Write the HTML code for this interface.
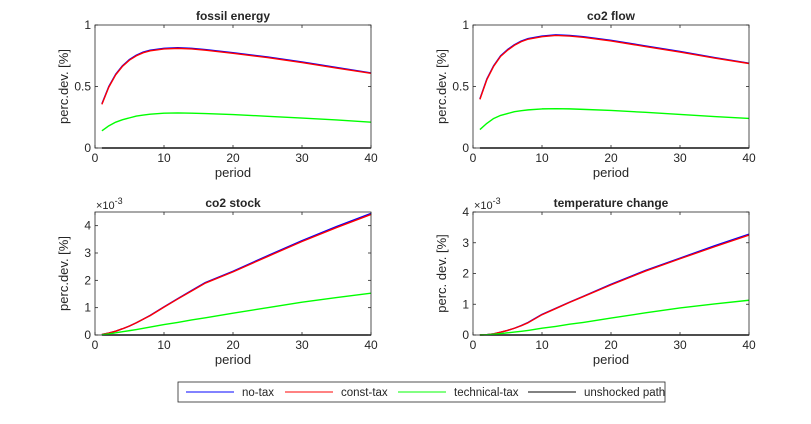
<!DOCTYPE html>
<html><head><meta charset="utf-8"><style>
body{margin:0;background:#fff;width:811px;height:419px;overflow:hidden;font-family:"Liberation Sans",sans-serif}
svg text{font-family:"Liberation Sans",sans-serif;fill:#262626}
</style></head><body>
<svg id="c" width="811" height="419"></svg>
<script>
const periods=[1,2,3,4,5,6,7,8,10,12,14,16,20,25,30,35,40];
const fossilNoTax=[0.36,0.50,0.60,0.67,0.72,0.755,0.78,0.795,0.81,0.815,0.81,0.80,0.775,0.74,0.70,0.655,0.61];
const fossilConst=[0.355,0.495,0.595,0.665,0.715,0.75,0.775,0.79,0.805,0.81,0.805,0.795,0.77,0.735,0.695,0.65,0.607];
const fossilTech=[0.14,0.18,0.21,0.23,0.245,0.26,0.268,0.275,0.283,0.285,0.283,0.28,0.272,0.258,0.243,0.228,0.21];
const flowNoTax=[0.40,0.56,0.67,0.75,0.80,0.84,0.87,0.89,0.91,0.92,0.915,0.905,0.875,0.83,0.785,0.735,0.69];
const flowConst=[0.395,0.555,0.665,0.745,0.795,0.835,0.865,0.885,0.905,0.915,0.91,0.90,0.87,0.825,0.78,0.731,0.687];
const flowTech=[0.15,0.20,0.24,0.265,0.28,0.295,0.303,0.31,0.318,0.32,0.318,0.314,0.305,0.29,0.273,0.256,0.24];
const stockNoTax=[0.02,0.07,0.14,0.23,0.33,0.45,0.58,0.72,1.03,1.33,1.63,1.92,2.33,2.9,3.45,3.97,4.45];
const stockConst=[0.02,0.07,0.14,0.23,0.33,0.45,0.58,0.71,1.02,1.32,1.61,1.9,2.31,2.87,3.42,3.93,4.41];
const stockTech=[0.01,0.04,0.08,0.12,0.16,0.2,0.245,0.29,0.38,0.46,0.55,0.63,0.8,1.0,1.2,1.37,1.53];
const tempNoTax=[0,0.01,0.04,0.09,0.15,0.22,0.31,0.41,0.67,0.87,1.07,1.26,1.65,2.1,2.5,2.9,3.28];
const tempConst=[0,0.01,0.04,0.09,0.15,0.22,0.3,0.4,0.66,0.86,1.06,1.25,1.63,2.08,2.48,2.87,3.25];
const tempTech=[0,0.01,0.025,0.045,0.07,0.095,0.12,0.15,0.22,0.28,0.35,0.41,0.55,0.72,0.88,1.01,1.13];
const unshocked=[0,0,0,0,0,0,0,0,0,0,0,0,0,0,0,0,0];
const xTicks=[0,10,20,30,40];
const NS='http://www.w3.org/2000/svg';
const svg=document.getElementById('c');
function el(t,a,p){const e=document.createElementNS(NS,t);for(const k in a)e.setAttribute(k,a[k]);(p||svg).appendChild(e);return e;}
const panels=[
 {name:'fossil-energy',title:'fossil energy',x0:95,x1:371,y0:25,y1:148,ymax:1,yt:[0,0.5,1],ytl:['0','0.5','1'],yl:'perc.dev. [%]',s:[fossilNoTax,fossilConst,fossilTech],exp:false},
 {name:'co2-flow',title:'co2 flow',x0:473,x1:749,y0:25,y1:148,ymax:1,yt:[0,0.5,1],ytl:['0','0.5','1'],yl:'perc.dev. [%]',s:[flowNoTax,flowConst,flowTech],exp:false},
 {name:'co2-stock',title:'co2 stock',x0:95,x1:371,y0:212,y1:335,ymax:4.5,yt:[0,1,2,3,4],ytl:['0','1','2','3','4'],yl:'perc.dev. [%]',s:[stockNoTax,stockConst,stockTech],exp:true},
 {name:'temperature-change',title:'temperature change',x0:473,x1:749,y0:212,y1:335,ymax:4,yt:[0,1,2,3,4],ytl:['0','1','2','3','4'],yl:'perc. dev. [%]',s:[tempNoTax,tempConst,tempTech],exp:true}];
const colors=['#0000ff','#ff0000','#00ff00'];
const snames=['no-tax','const-tax','technical-tax'];
panels.forEach(P=>{
 const g=el('g',{});
 
 
 const sx=v=>P.x0+(v/40)*(P.x1-P.x0);
 const sy=v=>P.y1-(v/P.ymax)*(P.y1-P.y0);
 el('rect',{x:P.x0,y:P.y0,width:P.x1-P.x0,height:P.y1-P.y0,fill:'#fff'},g);
 const mk=(arr,col,nm)=>{const p=el('polyline',{points:periods.map((t,i)=>sx(t)+','+sy(arr[i])).join(' '),fill:'none',stroke:col,'stroke-width':1.4,'stroke-linejoin':'round'},g);
  };
 mk(unshocked,'#000','unshocked-path-line');
 P.s.forEach((a,i)=>mk(a,colors[i],snames[i]+'-line'));
 el('rect',{x:P.x0,y:P.y0,width:P.x1-P.x0,height:P.y1-P.y0,fill:'none',stroke:'#262626','stroke-width':0.8},g);
 xTicks.forEach(t=>{const x=sx(t);
  el('line',{x1:x,x2:x,y1:P.y1,y2:P.y1-3,stroke:'#262626','stroke-width':0.8},g);
  el('line',{x1:x,x2:x,y1:P.y0,y2:P.y0+3,stroke:'#262626','stroke-width':0.8},g);
  const tx=el('text',{x:x,y:P.y1+14,'font-size':12,'text-anchor':'middle'},g);tx.textContent=t;
  });
 P.yt.forEach((t,i)=>{const y=sy(t);
  el('line',{x1:P.x0,x2:P.x0+3,y1:y,y2:y,stroke:'#262626','stroke-width':0.8},g);
  el('line',{x1:P.x1,x2:P.x1-3,y1:y,y2:y,stroke:'#262626','stroke-width':0.8},g);
  const tx=el('text',{x:P.x0-4,y:y+4,'font-size':12,'text-anchor':'end'},g);tx.textContent=P.ytl[i];
  });
 const ti=el('text',{x:(P.x0+P.x1)/2,y:P.y0-5,'font-size':12,'font-weight':'bold','text-anchor':'middle',fill:'#000'},g);ti.textContent=P.title;
 
 const xl=el('text',{x:(P.x0+P.x1)/2,y:P.y1+29,'font-size':13,'text-anchor':'middle'},g);xl.textContent='period';
 
 const yc=(P.y0+P.y1)/2, lx=P.x0-27;
 const yl=el('text',{x:lx,y:yc,'font-size':13,'text-anchor':'middle',transform:`rotate(-90 ${lx} ${yc})`},g);yl.textContent=P.yl;
 
 if(P.exp){const ex=el('text',{x:P.x0+1,y:P.y0-3,'font-size':11},g);
  ex.innerHTML='×10<tspan dy="-5" font-size="9">-3</tspan>';
  }
});
// legend
const lg=el('g',{});


el('rect',{x:178,y:382,width:487,height:20,fill:'#fff',stroke:'#262626','stroke-width':0.8},lg);
const entries=[['no-tax','#0000ff',186],['const-tax','#ff0000',285],['technical-tax','#00ff00',398],['unshocked path','#000',528]];
entries.forEach(e=>{const eg=el('g',{},lg);
 
 
 el('line',{x1:e[2],x2:e[2]+48,y1:392,y2:392,stroke:e[1],'stroke-width':1.4,'stroke-opacity':0.65},eg);
 const t=el('text',{x:e[2]+56,y:396,'font-size':11.5},eg);t.textContent=e[0];});
</script>
</body></html>
